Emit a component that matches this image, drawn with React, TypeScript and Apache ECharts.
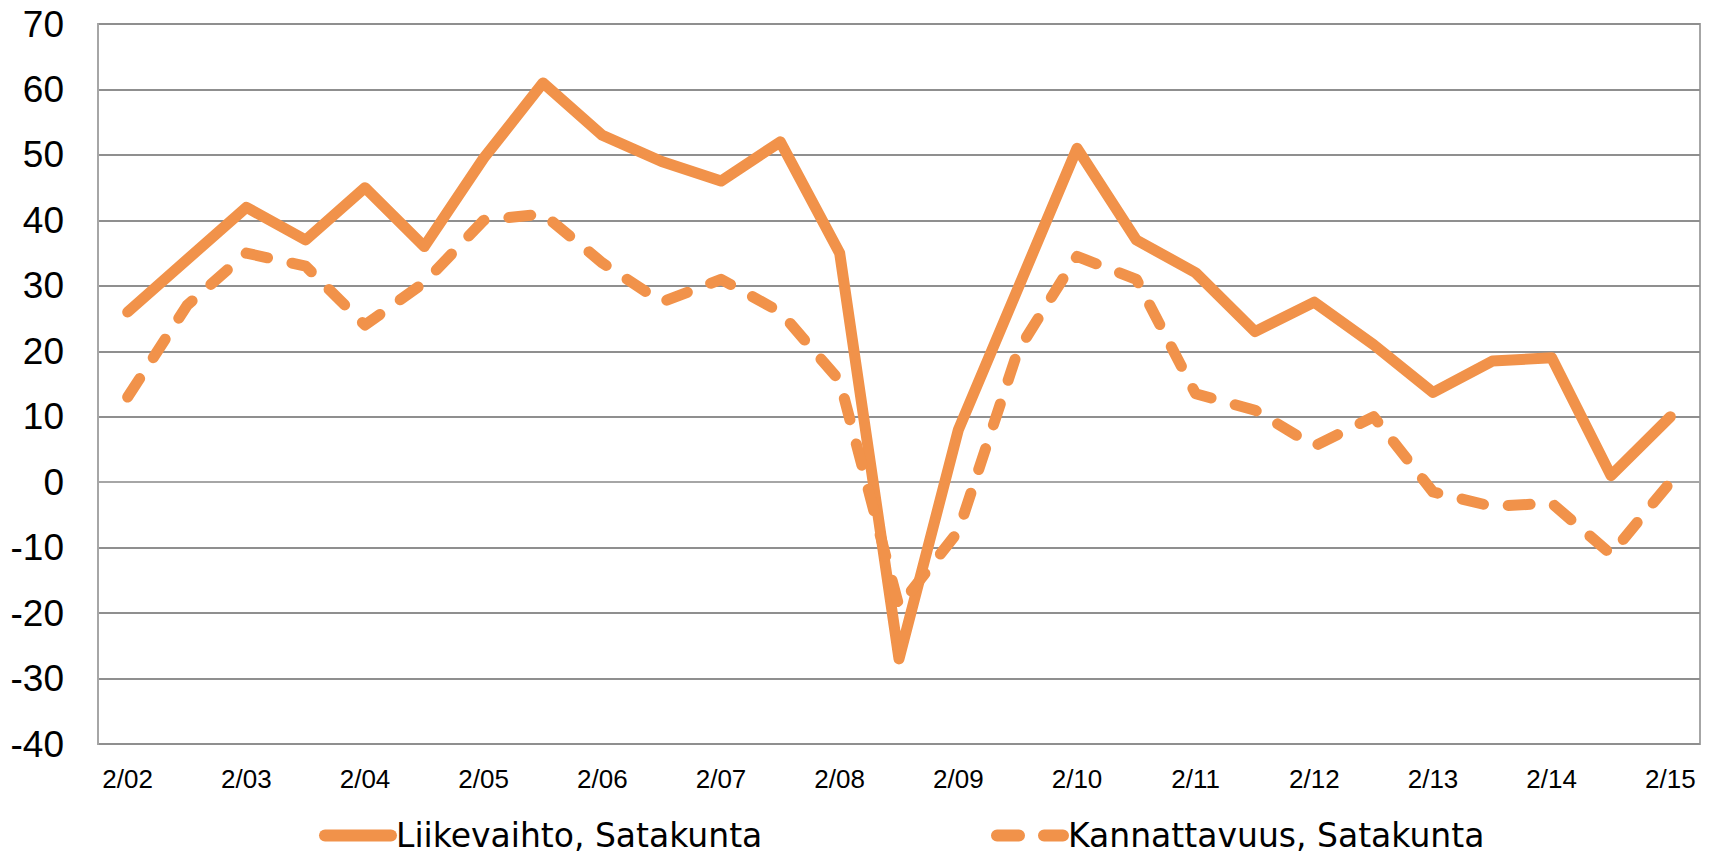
import React, { useEffect, useRef } from "react";
import * as echarts from "echarts";

const categories = [
  "2/02", "8/02", "2/03", "8/03", "2/04", "8/04", "2/05", "8/05", "2/06",
  "8/06", "2/07", "8/07", "2/08", "8/08", "2/09", "8/09", "2/10", "8/10",
  "2/11", "8/11", "2/12", "8/12", "2/13", "8/13", "2/14", "8/14", "2/15",
];

const liikevaihto = [
  26, 34, 42, 37, 45, 36, 49.5, 61, 53, 49, 46, 52, 35, -27, 8, 29.5, 51, 37,
  32, 23, 27.5, 21, 13.7, 18.5, 19, 1, 10,
];

const kannattavuus = [
  13, 27, 35, 33, 24, 30.5, 40, 41, 33.5, 27.5, 31, 26, 15.5, -19, -7.5, 20,
  34.5, 31, 13.5, 11, 5.5, 10, -1.5, -3.7, -3.2, -11, 0,
];

const seriesNames = ["Liikevaihto, Satakunta", "Kannattavuus, Satakunta"];

const yMin = -40;
const yMax = 70;
const yStep = 10;

const ORANGE = "#F1924A";

export default function App() {
  const ref = useRef<HTMLDivElement>(null);

  useEffect(() => {
    if (!ref.current) return;
    const chart = echarts.init(ref.current, null, { renderer: "svg" });
    const legendCommon = {
      orient: "horizontal",
      top: 814,
      itemWidth: 66,
      itemHeight: 14,
      selectedMode: false,
      lineStyle: { width: 12, cap: "round" },
      itemStyle: { color: "transparent", borderColor: "transparent", borderWidth: 0 },
      textStyle: {
        fontFamily: "DejaVu Sans",
        fontSize: 33,
        color: "#000",
      },
    };
    chart.setOption({
      animation: false,
      backgroundColor: "#fff",
      grid: {
        left: 98,
        right: 14,
        top: 24,
        bottom: 111,
        show: true,
        borderColor: "#a6a6a6",
        borderWidth: 2,
        containLabel: false,
      },
      legend: [
        { ...legendCommon, left: 314, data: [seriesNames[0]] },
        { ...legendCommon, left: 986, data: [seriesNames[1]] },
      ],
      xAxis: {
        type: "category",
        data: categories,
        boundaryGap: true,
        axisLine: { show: true, lineStyle: { color: "#a6a6a6", width: 2 } },
        axisTick: { show: false },
        axisLabel: {
          interval: 1,
          margin: 22,
          fontFamily: "Liberation Sans",
          fontSize: 26,
          color: "#000",
        },
        splitLine: { show: false },
      },
      yAxis: {
        type: "value",
        min: yMin,
        max: yMax,
        interval: yStep,
        axisLine: { show: true, lineStyle: { color: "#a6a6a6", width: 2 } },
        axisTick: { show: false },
        axisLabel: {
          margin: 34,
          fontFamily: "Liberation Sans",
          fontSize: 37,
          color: "#000",
        },
        splitLine: { show: true, lineStyle: { color: "#8f8f8f", width: 2 } },
      },
      series: [
        {
          name: seriesNames[0],
          type: "line",
          data: liikevaihto,
          symbol: "none",
          color: ORANGE,
          lineStyle: { color: ORANGE, width: 11, cap: "round", join: "round" },
        },
        {
          name: seriesNames[1],
          type: "line",
          data: kannattavuus,
          symbol: "none",
          color: ORANGE,
          lineStyle: {
            color: ORANGE,
            width: 11,
            type: [22, 25],
            cap: "round",
            join: "round",
          },
        },
      ],
    });
    return () => chart.dispose();
  }, []);

  return (
    <div
      ref={ref}
      style={{ position: "fixed", left: 0, top: 0, width: 1714, height: 855 }}
    />
  );
}
